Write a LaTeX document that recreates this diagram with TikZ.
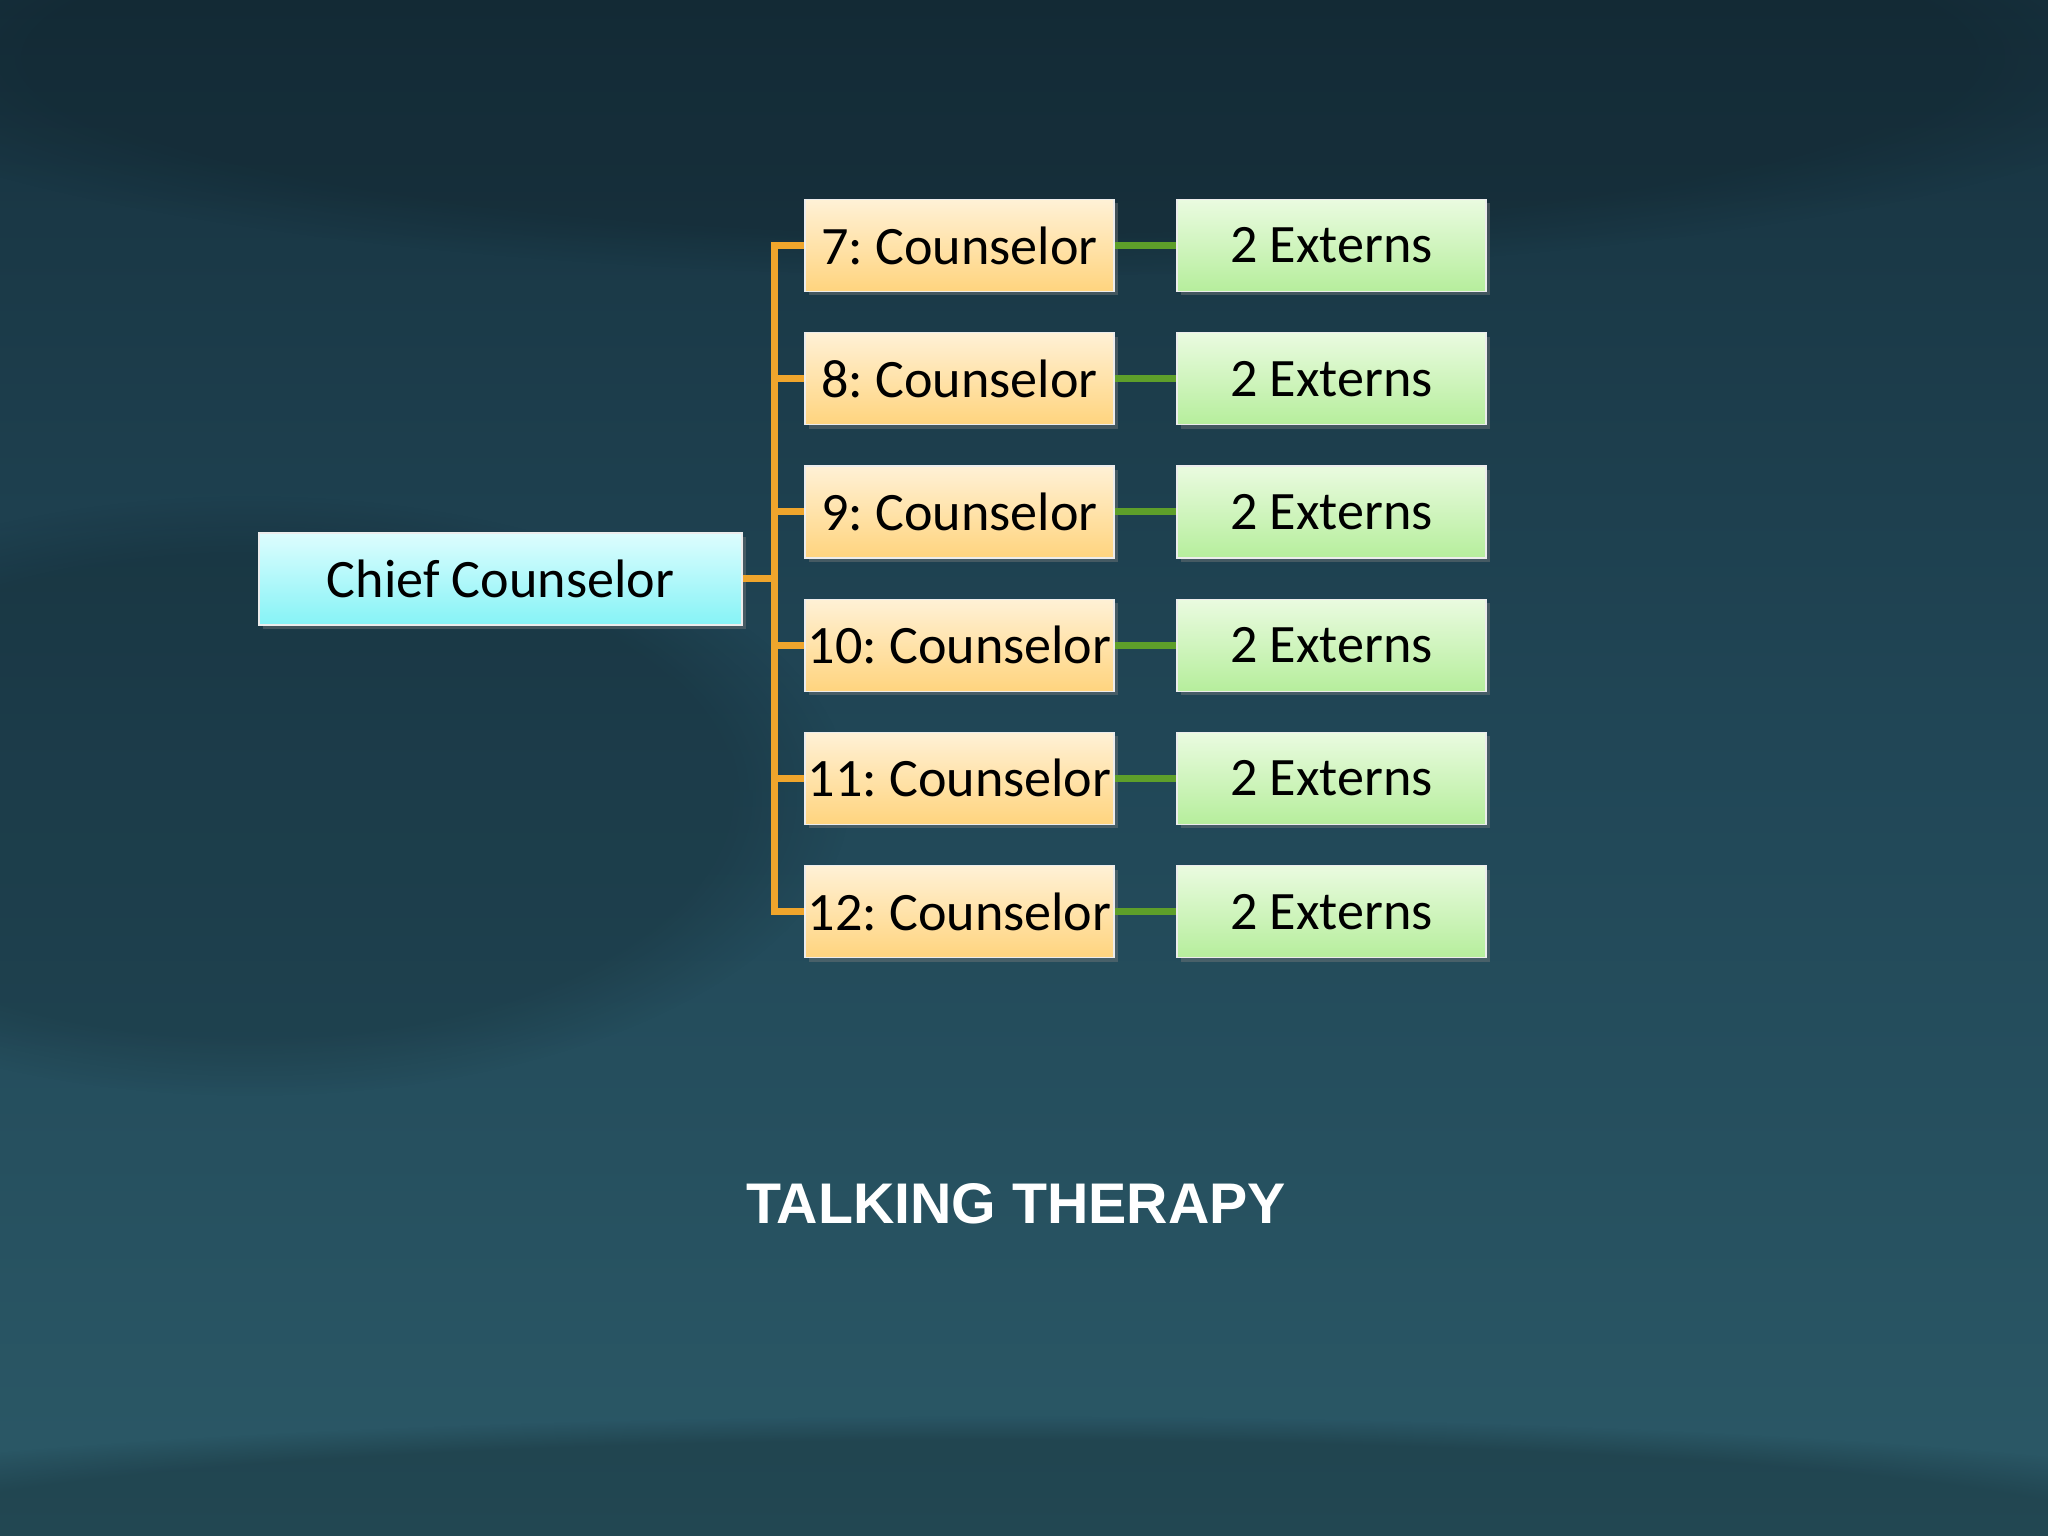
\documentclass[tikz,border=0pt]{standalone}
\usepackage{fontspec}
\setmainfont{Carlito}
\newfontfamily\headfont{Liberation Sans}
\frenchspacing
\usepackage{tikz}
\usetikzlibrary{shadows,fadings}

\definecolor{boardtop}{HTML}{17323F}
\definecolor{boardmid}{HTML}{214757}
\definecolor{boardlow}{HTML}{2B5967}
\definecolor{chieftop}{HTML}{DDFDFE}
\definecolor{chiefbot}{HTML}{86F3F6}
\definecolor{counseltop}{HTML}{FFF1D6}
\definecolor{counselbot}{HTML}{FFD47E}
\definecolor{interntop}{HTML}{EAFBE0}
\definecolor{internbot}{HTML}{B6EE9C}
\definecolor{busline}{HTML}{EFA52C}
\definecolor{pairline}{HTML}{5E9F2A}

\tikzset{
  box/.style={draw=white!85!gray,line width=0.3pt,minimum height=0.92cm,
    inner sep=0pt,font=\fontsize{15.4}{18}\selectfont,
    drop shadow={opacity=0.4,shadow xshift=0.04cm,shadow yshift=-0.04cm}},
  chiefbox/.style={box,top color=chieftop,bottom color=chiefbot,minimum width=4.83cm},
  counselbox/.style={box,top color=counseltop,bottom color=counselbot,minimum width=3.09cm},
  externbox/.style={box,top color=interntop,bottom color=internbot,minimum width=3.09cm},
  orangeline/.style={busline,line width=2pt},
  greenline/.style={pairline,line width=2pt}
}

\begin{document}
\begin{tikzpicture}
        % board
        \useasboundingbox (0,0) rectangle (20.48,15.36);
        \shade[top color=boardtop,bottom color=boardlow,middle color=boardmid] (0,0) rectangle (20.48,15.36);
        \fill[black,opacity=0.15,path fading=circle with fuzzy edge 20 percent] (2.5,7.4) ellipse (6cm and 3cm);
        \fill[black,opacity=0.15,path fading=circle with fuzzy edge 20 percent] (10,14.8) ellipse (12cm and 2.2cm);
        \fill[black,opacity=0.2,path fading=circle with fuzzy edge 20 percent] (10,0) ellipse (14cm and 1.2cm);

        \coordinate (chief) at (5.005,9.57);
        \coordinate (bus) at (7.745,9.57);

        \node[chiefbox] (Chief) at (chief) {Chief Counselor};

        \node[counselbox] (C7) at (9.595,12.905) {7: Counselor};
        \node[counselbox] (C8) at (9.595,11.572) {8: Counselor};
        \node[counselbox] (C9) at (9.595,10.240) {9: Counselor};
        \node[counselbox] (C10) at (9.595,8.908) {10: Counselor};
        \node[counselbox] (C11) at (9.595,7.576) {11: Counselor};
        \node[counselbox] (C12) at (9.595,6.243) {12: Counselor};

        \node[externbox] (E7) at (13.315,12.905) {2 Externs};
        \node[externbox] (E8) at (13.315,11.572) {2 Externs};
        \node[externbox] (E9) at (13.315,10.240) {2 Externs};
        \node[externbox] (E10) at (13.315,8.908) {2 Externs};
        \node[externbox] (E11) at (13.315,7.576) {2 Externs};
        \node[externbox] (E12) at (13.315,6.243) {2 Externs};

        \draw[orangeline] (Chief.east) -- (bus);
        \draw[orangeline] (C7.west) -| (bus) |- (C12.west);
        \draw[orangeline] (C8.west) -- (C8.west -| bus);
        \draw[orangeline] (C9.west) -- (C9.west -| bus);
        \draw[orangeline] (C10.west) -- (C10.west -| bus);
        \draw[orangeline] (C11.west) -- (C11.west -| bus);

        \draw[greenline] (C7) -- (E7);
        \draw[greenline] (C8) -- (E8);
        \draw[greenline] (C9) -- (E9);
        \draw[greenline] (C10) -- (E10);
        \draw[greenline] (C11) -- (E11);
        \draw[greenline] (C12) -- (E12);

        \node[text=white,font=\headfont\bfseries\fontsize{16.3}{20}\selectfont] (Title) at (10.16,3.32) {TALKING THERAPY};
    \end{tikzpicture}
\end{document}
